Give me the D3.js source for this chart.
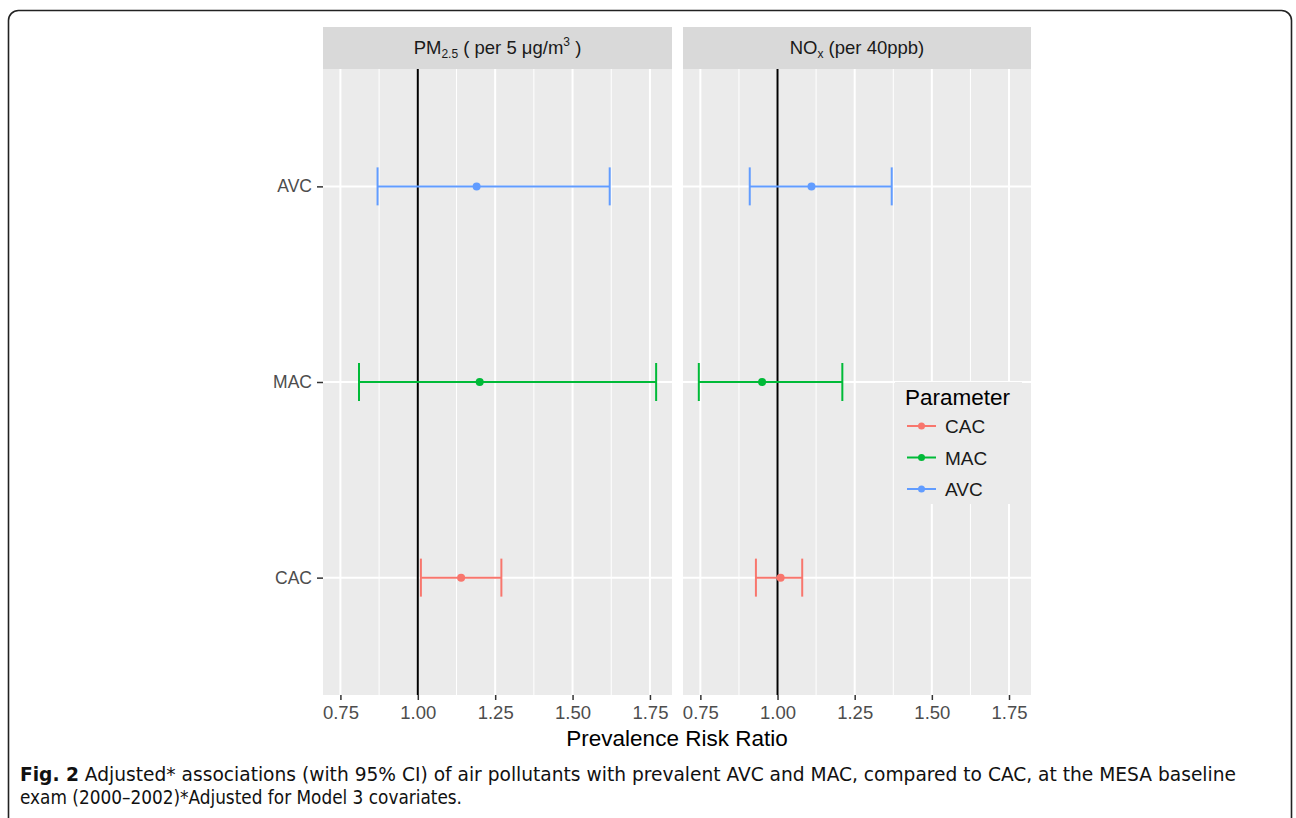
<!DOCTYPE html>
<html>
<head>
<meta charset="utf-8">
<script src="https://cdn.jsdelivr.net/npm/d3@7"></script>
<style>
  body { margin: 0; background: #fff; }
  svg { display: block; }
</style>
</head>
<body>
<div id="chart"></div>
<script>
// values
const params = ["AVC", "MAC", "CAC"];          // top to bottom
const legendOrder = ["CAC", "MAC", "AVC"];
const panels = ["pm", "nox"];

const pmEst  = [1.19, 1.20, 1.14];
const pmLow  = [0.87, 0.81, 1.01];
const pmHigh = [1.62, 1.77, 1.27];

const noxEst  = [1.11, 0.95, 1.01];
const noxLow  = [0.91, 0.745, 0.93];
const noxHigh = [1.37, 1.21, 1.08];

const xTicks = [0.75, 1.00, 1.25, 1.50, 1.75];
const xMinor = [0.875, 1.125, 1.375, 1.625];

const colors = { CAC: "#F8766D", MAC: "#00BA38", AVC: "#619CFF" };

const W = 1296, H = 818;
const svg = d3.select("#chart").append("svg")
  .attr("width", W).attr("height", H);

// frame
svg.append("rect")
  .attr("x", 8.5).attr("y", 10.5)
  .attr("width", 1283).attr("height", 820)
  .attr("rx", 10)
  .attr("fill", "none").attr("stroke", "#222").attr("stroke-width", 1.6);

const font = "'Liberation Sans', Arial, sans-serif";

// build rows
const rows = {
  pm: params.map((p, i) => ({ key: p, est: pmEst[i], lo: pmLow[i], hi: pmHigh[i] })),
  nox: params.map((p, i) => ({ key: p, est: noxEst[i], lo: noxLow[i], hi: noxHigh[i] }))
};

// shared x domain, ggplot style 5% expansion
const allLo = d3.min([...pmLow, ...noxLow]);
const allHi = d3.max([...pmHigh, ...noxHigh]);
const pad = (allHi - allLo) * 0.05;

const panelX = { pm: [323, 672], nox: [683, 1031] };
const pTop = 69, pBottom = 695;

// discrete y with 0.6 expansion
const yScale = d3.scalePoint()
  .domain(params)
  .range([pTop, pBottom])
  .padding(0.6);

panels.forEach(pn => {
  const [x0, x1] = panelX[pn];
  const x = d3.scaleLinear().domain([allLo - pad, allHi + pad]).range([x0, x1]);
  const g = svg.append("g");

  // strip
  g.append("rect").attr("x", x0).attr("y", 27).attr("width", x1 - x0).attr("height", 42)
    .attr("fill", "#D9D9D9");
  const st = g.append("text")
    .attr("x", (x0 + x1) / 2).attr("y", 54)
    .attr("text-anchor", "middle")
    .attr("font-family", font).attr("font-size", 18.5).attr("fill", "#1A1A1A");
  if (pn === "pm") {
    st.append("tspan").text("PM");
    st.append("tspan").attr("font-size", 12).attr("dy", 4).text("2.5");
    st.append("tspan").attr("dy", -4).text(" ( per 5 \u03bcg/m");
    st.append("tspan").attr("font-size", 12).attr("dy", -8).text("3");
    st.append("tspan").attr("dy", 8).text(" )");
  } else {
    st.append("tspan").text("NO");
    st.append("tspan").attr("font-size", 12).attr("dy", 4).text("x");
    st.append("tspan").attr("dy", -4).text(" (per 40ppb)");
  }

  // panel background
  g.append("rect").attr("x", x0).attr("y", pTop).attr("width", x1 - x0).attr("height", pBottom - pTop)
    .attr("fill", "#EBEBEB");

  // grid
  g.selectAll(".minor").data(xMinor).enter().append("line")
    .attr("x1", d => x(d)).attr("x2", d => x(d))
    .attr("y1", pTop).attr("y2", pBottom)
    .attr("stroke", "#fff").attr("stroke-width", 1);
  g.selectAll(".major").data(xTicks).enter().append("line")
    .attr("x1", d => x(d)).attr("x2", d => x(d))
    .attr("y1", pTop).attr("y2", pBottom)
    .attr("stroke", "#fff").attr("stroke-width", 2);
  g.selectAll(".hgrid").data(params).enter().append("line")
    .attr("x1", x0).attr("x2", x1)
    .attr("y1", d => yScale(d)).attr("y2", d => yScale(d))
    .attr("stroke", "#fff").attr("stroke-width", 2);

  // reference line at 1
  g.append("line")
    .attr("x1", x(1)).attr("x2", x(1))
    .attr("y1", pTop).attr("y2", pBottom)
    .attr("stroke", "#000").attr("stroke-width", 2);

  // error bars
  const data = rows[pn];
  const capH = 19;
  g.selectAll(".bar").data(data).enter().append("line")
    .attr("x1", d => x(d.lo)).attr("x2", d => x(d.hi))
    .attr("y1", d => yScale(d.key)).attr("y2", d => yScale(d.key))
    .attr("stroke", d => colors[d.key]).attr("stroke-width", 2);
  g.selectAll(".capL").data(data).enter().append("line")
    .attr("x1", d => x(d.lo)).attr("x2", d => x(d.lo))
    .attr("y1", d => yScale(d.key) - capH).attr("y2", d => yScale(d.key) + capH)
    .attr("stroke", d => colors[d.key]).attr("stroke-width", 2);
  g.selectAll(".capR").data(data).enter().append("line")
    .attr("x1", d => x(d.hi)).attr("x2", d => x(d.hi))
    .attr("y1", d => yScale(d.key) - capH).attr("y2", d => yScale(d.key) + capH)
    .attr("stroke", d => colors[d.key]).attr("stroke-width", 2);
  g.selectAll(".pt").data(data).enter().append("circle")
    .attr("cx", d => x(d.est)).attr("cy", d => yScale(d.key)).attr("r", 4)
    .attr("fill", d => colors[d.key]);

  // x axis
  const ax = g.append("g").attr("transform", `translate(0,${pBottom})`)
    .call(d3.axisBottom(x).tickValues(xTicks).tickFormat(d3.format(".2f")).tickSize(5).tickPadding(6));
  ax.select(".domain").remove();
  ax.selectAll(".tick line").attr("stroke", "#333").attr("stroke-width", 1.5);
  ax.selectAll(".tick text").attr("font-family", font).attr("font-size", 18.5).attr("fill", "#4D4D4D");

  // y axis on first panel only
  if (pn === "pm") {
    const ay = g.append("g").attr("transform", `translate(${x0},0)`)
      .call(d3.axisLeft(yScale).tickSize(6).tickPadding(5));
    ay.select(".domain").remove();
    ay.selectAll(".tick line").attr("stroke", "#333").attr("stroke-width", 1.5);
    ay.selectAll(".tick text").attr("font-family", font).attr("font-size", 17.5).attr("fill", "#4D4D4D");
  }
});

// x axis title
svg.append("text")
  .attr("x", (panelX.pm[0] + panelX.nox[1]) / 2).attr("y", 746)
  .attr("text-anchor", "middle")
  .attr("font-family", font).attr("font-size", 22.5).attr("fill", "#000")
  .text("Prevalence Risk Ratio");

// legend
const lg = svg.append("g").attr("transform", "translate(895,382)");
lg.append("rect").attr("width", 127).attr("height", 122).attr("fill", "#EBEBEB");
lg.append("text").attr("x", 10).attr("y", 23)
  .attr("font-family", font).attr("font-size", 22.5).attr("fill", "#000")
  .text("Parameter");
const items = lg.selectAll(".item").data(legendOrder).enter().append("g")
  .attr("transform", (d, i) => `translate(0,${44 + i * 31.5})`);
items.append("line").attr("x1", 12).attr("x2", 41).attr("y1", 0).attr("y2", 0)
  .attr("stroke", d => colors[d]).attr("stroke-width", 2);
items.append("circle").attr("cx", 26.5).attr("cy", 0).attr("r", 3.5)
  .attr("fill", d => colors[d]);
items.append("text").attr("x", 50).attr("y", 7)
  .attr("font-family", font).attr("font-size", 19).attr("fill", "#1A1A1A")
  .text(d => d);

// caption
const capFont = "'DejaVu Sans Condensed', 'Liberation Sans Narrow', 'Arial Narrow', sans-serif";
const c1 = svg.append("text").attr("x", 20).attr("y", 781)
  .attr("font-family", capFont).attr("font-size", 19.5).attr("fill", "#111")
  .attr("textLength", 1216).attr("lengthAdjust", "spacingAndGlyphs");
c1.append("tspan").attr("font-weight", "bold").text("Fig. 2");
c1.append("tspan").text(" Adjusted* associations (with 95% CI) of air pollutants with prevalent AVC and MAC, compared to CAC, at the MESA baseline");
svg.append("text").attr("x", 20).attr("y", 804)
  .attr("font-family", capFont).attr("font-size", 19.5).attr("fill", "#111")
  .attr("textLength", 442).attr("lengthAdjust", "spacingAndGlyphs")
  .text("exam (2000\u20132002)*Adjusted for Model 3 covariates.");
</script>
</body>
</html>
